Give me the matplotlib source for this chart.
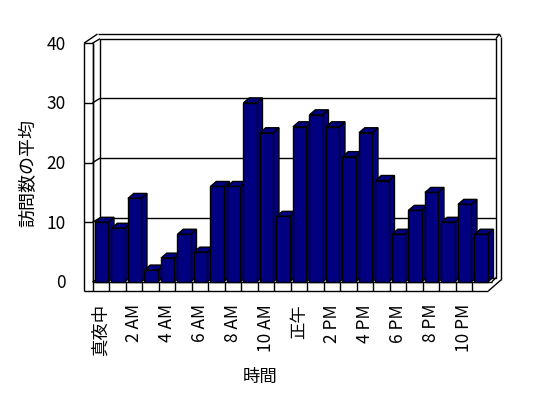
import matplotlib
matplotlib.use("Agg")
import matplotlib.pyplot as plt
from matplotlib.patches import Polygon

plt.rcParams['font.family'] = ['Noto Sans CJK JP', 'DejaVu Sans']

# ---- data ----
categories = ["真夜中", "1 AM", "2 AM", "3 AM", "4 AM", "5 AM", "6 AM", "7 AM",
              "8 AM", "9 AM", "10 AM", "11 AM", "正午", "1 PM", "2 PM", "3 PM",
              "4 PM", "5 PM", "6 PM", "7 PM", "8 PM", "9 PM", "10 PM", "11 PM"]
values = [10, 9, 14, 2, 4, 8, 5, 16, 16, 30, 25, 11,
          26, 28, 26, 21, 25, 17, 8, 12, 15, 10, 13, 8]
shown_labels = ["真夜中", "2 AM", "4 AM", "6 AM", "8 AM", "10 AM",
                "正午", "2 PM", "4 PM", "6 PM", "8 PM", "10 PM"]
yticks = [0, 10, 20, 30, 40]
ylabel = "訪問数の平均"
xlabel = "時間"

BAR = "#000080"
EDGE = "black"
LW = 1.0

W, H = 548, 398
fig = plt.figure(figsize=(W / 100, H / 100), dpi=100)
ax = fig.add_axes([0, 0, 1, 1])
ax.axis("off")

# pixel -> data scale (category units / value units)
PXX, PXY = 16.5, 5.97
X0PX, Y0PX = 92.5, 282.0
ax.set_xlim((0 - X0PX) / PXX, (W - X0PX) / PXX)
ax.set_ylim((Y0PX - H) / PXY, Y0PX / PXY)

n = len(values)
ymax = 40
# depth offsets
bdx, bdy = 5.8 / PXX, 5.0 / PXY      # bars
wdx, wdy = 7.5 / PXX, 4.5 / PXY      # back wall
# wall thickness geometry
xo_l = (84 - X0PX) / PXX
yo_b = (Y0PX - 291) / PXY
yo_t = (Y0PX - 34) / PXY
xo_r = (501 - X0PX) / PXX
xo_tl = (97.5 - X0PX) / PXX
xf_r = (488.3 - X0PX) / PXX

def line(xs, ys, z=1):
    ax.plot(xs, ys, color=EDGE, lw=LW, solid_capstyle="butt", zorder=z)

# back wall
line([wdx, n + wdx, n + wdx, wdx, wdx], [wdy, wdy, ymax + wdy, ymax + wdy, wdy])
for t in yticks[1:-1]:
    line([wdx, n + wdx], [t + wdy, t + wdy])
# left wall inner face
line([0, 0], [0, ymax])
for t in yticks:
    line([0, wdx], [t, t + wdy])
# left wall front face + ticks
line([xo_l, xo_l], [yo_b, ymax])
line([xo_l, 0], [ymax, ymax])
line([0, 0], [yo_b, ymax])
for t in yticks[1:-1]:
    line([xo_l, 0], [t, t])
# top thickness
line([xo_l, xo_tl], [ymax, yo_t])
line([xo_tl, xo_r - 0.1], [yo_t, yo_t])
line([xo_r - 0.1, n + wdx], [yo_t, ymax + wdy])
line([xo_r - 0.1, xo_r], [yo_t, yo_t - 0.5])
# right thickness
line([xo_r, xo_r], [yo_t - 0.5, 0.35])
line([xo_r, xf_r], [0.35, yo_b])
line([n + 0.2, n + wdx], [0, wdy])
# floor front face
line([xo_l, xf_r], [yo_b, yo_b])
line([0, n + 0.2], [0, 0])
for k in range(1, n):
    line([k, k], [yo_b, 0])

# bars
fronts = ax.bar([i + 0.15 for i in range(n)], values, width=0.8, align="edge",
                color=BAR, edgecolor=EDGE, linewidth=LW)
for i, (rect, v) in enumerate(zip(fronts, values)):
    x0 = rect.get_x()
    x1 = x0 + rect.get_width()
    z = 3 + i * 3
    side = Polygon([(x1, 0), (x1 + bdx, bdy), (x1 + bdx, v + bdy), (x1, v)],
                   closed=True, facecolor=BAR, edgecolor=EDGE, lw=LW, zorder=z)
    top = Polygon([(x0, v), (x1, v), (x1 + bdx, v + bdy), (x0 + bdx, v + bdy)],
                  closed=True, facecolor=BAR, edgecolor=EDGE, lw=LW, zorder=z + 1)
    ax.add_patch(side)
    ax.add_patch(top)
    rect.set_zorder(z + 2)

# y tick labels
for t in yticks:
    ax.text((66 - X0PX) / PXX, t - 1.5 / PXY, str(t), ha="right", va="center",
            fontsize=12.5)

# x tick labels
for lab in shown_labels:
    i = categories.index(lab)
    ax.text(i + 0.5, (Y0PX - 304) / PXY, lab, rotation=90, ha="center", va="top",
            fontsize=12.5)

ax.text((260 - X0PX) / PXX, (Y0PX - 376.5) / PXY, xlabel, ha="center", va="center",
        fontsize=12.5)
ax.text((28 - X0PX) / PXX, (Y0PX - 173) / PXY, ylabel, rotation=90, ha="center",
        va="center", fontsize=13)

fig.savefig("out.png", dpi=100)
